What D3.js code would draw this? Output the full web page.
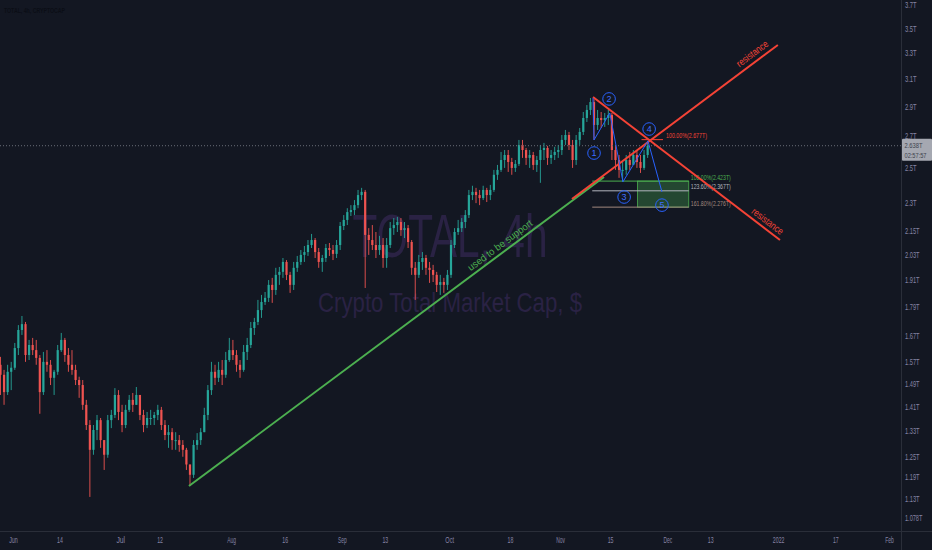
<!DOCTYPE html>
<html>
<head>
<meta charset="utf-8">
<script src="https://cdn.jsdelivr.net/npm/d3@7"></script>
<style>
  html, body { margin: 0; padding: 0; background: #131722; }
  svg { display: block; }
  text { font-family: "Liberation Sans", Arial, sans-serif; }
</style>
</head>
<body>
<svg id="chart" width="932" height="550"></svg>
<script>
// daily candles, values in trillions of USD, first candle is 2021-05-28
const firstDay = "2021-05-28T00:00:00Z";

const openT = [
  1.558, 1.521, 1.459, 1.532, 1.547, 1.622, 1.694, 1.718, 1.595, 1.634,
  1.614, 1.584, 1.459, 1.569, 1.558, 1.510, 1.532, 1.614, 1.654, 1.595,
  1.558, 1.539, 1.502, 1.484, 1.415, 1.348, 1.270, 1.332, 1.364, 1.300,
  1.255, 1.364, 1.381, 1.449, 1.391, 1.348, 1.398, 1.432, 1.415, 1.449,
  1.381, 1.348, 1.371, 1.371, 1.381, 1.398, 1.348, 1.316, 1.325, 1.300,
  1.300, 1.285, 1.270, 1.226, 1.196, 1.285, 1.300, 1.325, 1.381, 1.466,
  1.532, 1.510, 1.539, 1.521, 1.576, 1.614, 1.595, 1.558, 1.539, 1.607,
  1.634, 1.702, 1.727, 1.777, 1.812, 1.830, 1.888, 1.865, 1.934, 1.948,
  1.995, 1.934, 1.888, 1.967, 1.995, 2.029, 2.043, 2.078, 2.103, 2.043,
  1.995, 2.014, 2.063, 2.053, 2.034, 2.078, 2.175, 2.207, 2.249, 2.260,
  2.287, 2.343, 2.361, 2.129, 2.103, 2.078, 2.053, 2.078, 2.014, 2.078,
  2.164, 2.180, 2.196, 2.154, 2.164, 2.093, 1.967, 1.934, 1.995, 2.014,
  1.967, 1.957, 1.934, 1.888, 1.901, 1.888, 1.934, 2.078, 2.144, 2.164,
  2.196, 2.233, 2.343, 2.361, 2.343, 2.326, 2.372, 2.343, 2.372, 2.460,
  2.489, 2.549, 2.580, 2.537, 2.501, 2.525, 2.643, 2.611, 2.562, 2.580,
  2.519, 2.549, 2.611, 2.624, 2.562, 2.580, 2.599, 2.611, 2.675, 2.707,
  2.643, 2.549, 2.675, 2.727, 2.820, 2.875, 2.930, 2.773, 2.820, 2.806,
  2.820, 2.840, 2.611, 2.549, 2.489, 2.489, 2.549, 2.519, 2.580, 2.537,
  2.501, 2.580
];
const highT = [
  1.588, 1.539, 1.558, 1.569, 1.642, 1.714, 1.752, 1.727, 1.654, 1.662,
  1.654, 1.595, 1.607, 1.614, 1.576, 1.539, 1.634, 1.682, 1.662, 1.622,
  1.614, 1.558, 1.514, 1.502, 1.432, 1.364, 1.348, 1.381, 1.371, 1.300,
  1.381, 1.398, 1.473, 1.466, 1.415, 1.415, 1.449, 1.456, 1.477, 1.449,
  1.398, 1.391, 1.398, 1.391, 1.415, 1.408, 1.364, 1.348, 1.338, 1.325,
  1.316, 1.300, 1.276, 1.226, 1.300, 1.322, 1.338, 1.405, 1.484, 1.569,
  1.558, 1.569, 1.576, 1.607, 1.662, 1.654, 1.614, 1.576, 1.634, 1.662,
  1.727, 1.744, 1.821, 1.843, 1.856, 1.910, 1.920, 1.967, 1.971, 2.014,
  2.004, 1.948, 1.995, 2.024, 2.053, 2.073, 2.103, 2.134, 2.113, 2.063,
  2.029, 2.083, 2.088, 2.078, 2.103, 2.196, 2.233, 2.270, 2.287, 2.315,
  2.372, 2.384, 2.372, 2.164, 2.180, 2.144, 2.124, 2.113, 2.113, 2.196,
  2.217, 2.223, 2.217, 2.196, 2.180, 2.103, 1.995, 2.029, 2.043, 2.029,
  1.995, 1.981, 1.948, 1.934, 1.920, 1.957, 2.103, 2.164, 2.207, 2.217,
  2.260, 2.372, 2.396, 2.384, 2.372, 2.396, 2.384, 2.401, 2.489, 2.519,
  2.599, 2.611, 2.611, 2.562, 2.549, 2.675, 2.675, 2.624, 2.611, 2.599,
  2.574, 2.643, 2.656, 2.637, 2.611, 2.631, 2.643, 2.707, 2.740, 2.727,
  2.675, 2.707, 2.753, 2.861, 2.909, 2.959, 2.966, 2.875, 2.861, 2.854,
  2.875, 2.854, 2.643, 2.580, 2.537, 2.580, 2.599, 2.611, 2.611, 2.580,
  2.611, 2.669
];
const lowT = [
  1.449, 1.415, 1.449, 1.466, 1.539, 1.595, 1.674, 1.569, 1.576, 1.595,
  1.558, 1.385, 1.449, 1.532, 1.484, 1.449, 1.521, 1.607, 1.569, 1.532,
  1.521, 1.484, 1.439, 1.398, 1.332, 1.134, 1.255, 1.300, 1.276, 1.210,
  1.246, 1.338, 1.371, 1.364, 1.325, 1.338, 1.391, 1.391, 1.415, 1.364,
  1.325, 1.338, 1.348, 1.348, 1.364, 1.332, 1.300, 1.276, 1.270, 1.270,
  1.264, 1.249, 1.210, 1.164, 1.187, 1.270, 1.285, 1.325, 1.364, 1.449,
  1.484, 1.495, 1.484, 1.510, 1.569, 1.576, 1.532, 1.510, 1.532, 1.576,
  1.622, 1.674, 1.714, 1.744, 1.799, 1.812, 1.808, 1.843, 1.888, 1.920,
  1.910, 1.852, 1.865, 1.948, 1.981, 1.995, 2.024, 2.063, 2.014, 1.967,
  1.948, 1.995, 2.024, 2.004, 2.014, 2.053, 2.154, 2.180, 2.228, 2.233,
  2.270, 2.315, 1.874, 2.029, 2.053, 2.014, 2.029, 1.967, 1.967, 2.063,
  2.129, 2.144, 2.124, 2.113, 2.063, 1.934, 1.821, 1.920, 1.957, 1.934,
  1.897, 1.901, 1.856, 1.843, 1.852, 1.865, 1.920, 2.063, 2.129, 2.144,
  2.164, 2.217, 2.315, 2.298, 2.287, 2.315, 2.304, 2.315, 2.361, 2.430,
  2.477, 2.501, 2.477, 2.460, 2.477, 2.513, 2.562, 2.519, 2.501, 2.489,
  2.477, 2.413, 2.549, 2.519, 2.525, 2.549, 2.562, 2.580, 2.643, 2.611,
  2.501, 2.519, 2.643, 2.707, 2.793, 2.840, 2.675, 2.740, 2.753, 2.760,
  2.773, 2.549, 2.489, 2.442, 2.419, 2.460, 2.489, 2.519, 2.501, 2.471,
  2.489, 2.562
];
const closeT = [
  1.521, 1.459, 1.532, 1.547, 1.622, 1.694, 1.718, 1.595, 1.634, 1.614,
  1.584, 1.459, 1.569, 1.558, 1.510, 1.532, 1.614, 1.654, 1.595, 1.558,
  1.539, 1.502, 1.484, 1.415, 1.348, 1.270, 1.332, 1.364, 1.300, 1.255,
  1.364, 1.381, 1.449, 1.391, 1.348, 1.398, 1.432, 1.415, 1.449, 1.381,
  1.348, 1.371, 1.371, 1.381, 1.398, 1.348, 1.316, 1.325, 1.300, 1.300,
  1.285, 1.270, 1.226, 1.196, 1.285, 1.300, 1.325, 1.381, 1.466, 1.532,
  1.510, 1.539, 1.521, 1.576, 1.614, 1.595, 1.558, 1.539, 1.607, 1.634,
  1.702, 1.727, 1.777, 1.812, 1.830, 1.888, 1.865, 1.934, 1.948, 1.995,
  1.934, 1.888, 1.967, 1.995, 2.029, 2.043, 2.078, 2.103, 2.043, 1.995,
  2.014, 2.063, 2.053, 2.034, 2.078, 2.175, 2.207, 2.249, 2.260, 2.287,
  2.343, 2.361, 2.129, 2.103, 2.078, 2.053, 2.078, 2.014, 2.078, 2.164,
  2.180, 2.196, 2.154, 2.164, 2.093, 1.967, 1.934, 1.995, 2.014, 1.967,
  1.957, 1.934, 1.888, 1.901, 1.888, 1.934, 2.078, 2.144, 2.164, 2.196,
  2.233, 2.343, 2.361, 2.343, 2.326, 2.372, 2.343, 2.372, 2.460, 2.489,
  2.549, 2.580, 2.537, 2.501, 2.525, 2.643, 2.611, 2.562, 2.580, 2.519,
  2.549, 2.611, 2.624, 2.562, 2.580, 2.599, 2.611, 2.675, 2.707, 2.643,
  2.549, 2.675, 2.727, 2.820, 2.875, 2.930, 2.773, 2.820, 2.806, 2.820,
  2.840, 2.611, 2.549, 2.489, 2.489, 2.549, 2.519, 2.580, 2.537, 2.501,
  2.580, 2.638
];

// axes
const yTicks = [3.7, 3.5, 3.3, 3.1, 2.9, 2.7, 2.5, 2.3, 2.15, 2.03, 1.91, 1.79, 1.67, 1.57, 1.49, 1.41, 1.33, 1.25, 1.19, 1.13, 1.078];
const yTickLabels = ["3.7T", "3.5T", "3.3T", "3.1T", "2.9T", "2.7T", "2.5T", "2.3T", "2.15T", "2.03T", "1.91T", "1.79T", "1.67T", "1.57T", "1.49T", "1.41T", "1.33T", "1.25T", "1.19T", "1.13T", "1.078T"];
const xTickDates = ["2021-06-01", "2021-06-14", "2021-07-01", "2021-07-12", "2021-08-01", "2021-08-16", "2021-09-01", "2021-09-13", "2021-10-01", "2021-10-18", "2021-11-01", "2021-11-15", "2021-12-01", "2021-12-13", "2022-01-01", "2022-01-17", "2022-02-01"];
const xTickLabels = ["Jun", "14", "Jul", "12", "Aug", "16", "Sep", "13", "Oct", "18", "Nov", "15", "Dec", "13", "2022", "17", "Feb"];

const lastPrice = 2.638;
const lastPriceLabel = "2.638T";
const countdown = "02:57:57";

// drawings (date, price)
const supportLine = [["2021-07-20T05:00:00Z", 1.164], ["2021-11-13T07:00:00Z", 2.447]];
const resistanceUp = [["2021-11-04T08:00:00Z", 2.321], ["2021-12-31T22:00:00Z", 3.361]];
const resistanceDown = [["2021-11-10T05:00:00Z", 2.966], ["2022-01-01T12:00:00Z", 2.103]];
const wavePoints = [
  ["2021-11-10T05:00:00Z", 2.959], ["2021-11-10T12:00:00Z", 2.675], ["2021-11-14T22:00:00Z", 2.854],
  ["2021-11-18T14:00:00Z", 2.419], ["2021-11-25T14:00:00Z", 2.669], ["2021-11-29T12:00:00Z", 2.361]
];
const waveLabels = [
  ["1", "2021-11-10T12:00:00Z", 2.592], ["2", "2021-11-14T17:00:00Z", 2.952], ["3", "2021-11-18T22:00:00Z", 2.332],
  ["4", "2021-11-25T22:00:00Z", 2.746], ["5", "2021-11-29T12:00:00Z", 2.287]
];
const fibTop = ["100.00%", 2.677, "2021-11-23T19:00:00Z", "2021-11-29T19:00:00Z"];
const fibLevels = [["100.00%", 2.423], ["123.60%", 2.367], ["161.80%", 2.276]];
const fibSpan = ["2021-11-10T00:00:00Z", "2021-11-22T16:00:00Z", "2021-12-07T00:00:00Z"];

const svg = d3.select("#chart"),
  width = +svg.attr("width"),
  height = +svg.attr("height");
const plotRight = 901, plotBottom = 532;

const upColor = "#26a69a", downColor = "#ef5350";
const red = "#f44336", green = "#4caf50", blue = "#2962ff";
const fibColors = ["#4caf50", "#b2b5be", "#a1887f"];
const axisText = "#8683a4";

const x = d3.scaleUtc()
  .domain([new Date("2021-06-01T00:00:00Z"), new Date("2022-02-01T00:00:00Z")])
  .range([13, 889]);
const y = d3.scaleLog()
  .domain([1.078, 3.7])
  .range([518, 5]);

const pt = (p) => [x(new Date(p[0])), y(p[1])];

svg.append("rect").attr("width", width).attr("height", height).attr("fill", "#131722");

// watermark
svg.append("text")
  .attr("x", 450).attr("y", 257)
  .attr("text-anchor", "middle")
  .attr("font-size", 62)
  .attr("textLength", 195).attr("lengthAdjust", "spacingAndGlyphs")
  .attr("fill", "#2a2244")
  .text("TOTAL, 4h");
svg.append("text")
  .attr("x", 450).attr("y", 312)
  .attr("text-anchor", "middle")
  .attr("font-size", 28)
  .attr("textLength", 264).attr("lengthAdjust", "spacingAndGlyphs")
  .attr("fill", "#2a2244")
  .text("Crypto Total Market Cap, $");

// candles
const start = new Date(firstDay);
const candles = closeT.map((c, i) => ({
  t: d3.utcHour.offset(d3.utcDay.offset(start, i), 12),
  o: openT[i], h: highT[i], l: lowT[i], c: c
}));

const cg = svg.append("g");
cg.selectAll("line")
  .data(candles)
  .join("line")
  .attr("x1", (d) => x(d.t)).attr("x2", (d) => x(d.t))
  .attr("y1", (d) => y(d.h)).attr("y2", (d) => y(d.l))
  .attr("stroke", (d) => (d.c >= d.o ? upColor : downColor))
  .attr("stroke-width", 0.9);
cg.selectAll("rect")
  .data(candles)
  .join("rect")
  .attr("x", (d) => x(d.t) - 1.1)
  .attr("width", 2.2)
  .attr("y", (d) => y(Math.max(d.o, d.c)))
  .attr("height", (d) => Math.max(1, Math.abs(y(d.o) - y(d.c))))
  .attr("fill", (d) => (d.c >= d.o ? upColor : downColor));

// last price line
svg.append("line")
  .attr("x1", 0).attr("x2", plotRight)
  .attr("y1", y(lastPrice)).attr("y2", y(lastPrice))
  .attr("stroke", "#6a6d78")
  .attr("stroke-width", 1)
  .style("stroke-dasharray", "1,2");

// fib extension
const fx0 = x(new Date(fibSpan[0])), fx1 = x(new Date(fibSpan[1])), fx2 = x(new Date(fibSpan[2]));
svg.append("rect")
  .attr("x", fx1).attr("width", fx2 - fx1)
  .attr("y", y(fibLevels[0][1]))
  .attr("height", y(fibLevels[2][1]) - y(fibLevels[0][1]))
  .attr("fill", green).attr("fill-opacity", 0.32)
  .attr("stroke", green).attr("stroke-width", 0.8);
svg.selectAll("fibLines")
  .data(fibLevels)
  .join("line")
  .attr("x1", fx0).attr("x2", fx2)
  .attr("y1", (d) => y(d[1])).attr("y2", (d) => y(d[1]))
  .attr("stroke", (d, i) => fibColors[i])
  .attr("stroke-width", 1);
svg.selectAll("fibText")
  .data(fibLevels)
  .join("text")
  .attr("x", fx2 + 2)
  .attr("y", (d) => y(d[1]) - 1.5)
  .attr("font-size", 7.5)
  .attr("textLength", 40).attr("lengthAdjust", "spacingAndGlyphs")
  .attr("fill", (d, i) => fibColors[i])
  .text((d) => `${d[0]}(${d3.format(".3f")(d[1])}T)`);

svg.append("line")
  .attr("x1", x(new Date(fibTop[2]))).attr("x2", x(new Date(fibTop[3])))
  .attr("y1", y(fibTop[1])).attr("y2", y(fibTop[1]))
  .attr("stroke", red).attr("stroke-width", 1);
svg.append("text")
  .attr("x", x(new Date(fibTop[3])) + 3)
  .attr("y", y(fibTop[1]) - 1.5)
  .attr("font-size", 7.5)
  .attr("textLength", 41).attr("lengthAdjust", "spacingAndGlyphs")
  .attr("fill", red)
  .text(`${fibTop[0]}(${d3.format(".3f")(fibTop[1])}T)`);

// trend lines
const line = d3.line();
svg.append("path").attr("d", line(supportLine.map(pt)))
  .attr("stroke", green).attr("stroke-width", 2).attr("fill", "none");
svg.append("path").attr("d", line(resistanceUp.map(pt)))
  .attr("stroke", red).attr("stroke-width", 2).attr("fill", "none");
svg.append("path").attr("d", line(resistanceDown.map(pt)))
  .attr("stroke", red).attr("stroke-width", 2).attr("fill", "none");

// text along a line
function lineLabel(seg, t, txt, color, len, off) {
  const a = pt(seg[0]), b = pt(seg[1]);
  const px = a[0] + (b[0] - a[0]) * t, py = a[1] + (b[1] - a[1]) * t;
  const ang = Math.atan2(b[1] - a[1], b[0] - a[0]) * 180 / Math.PI;
  const r = ang > 90 || ang < -90 ? ang + 180 : ang;
  svg.append("text")
    .attr("transform", `translate(${px},${py}) rotate(${r})`)
    .attr("y", off)
    .attr("text-anchor", "middle")
    .attr("font-size", 10)
    .attr("textLength", len).attr("lengthAdjust", "spacingAndGlyphs")
    .attr("fill", color)
    .text(txt);
}
lineLabel(supportLine, 0.76, "used to be support", green, 78, -4);
lineLabel(resistanceUp, 0.9, "resistance", red, 37, -5);
lineLabel(resistanceDown, 0.91, "resistance", red, 37, -4);

// elliott waves
svg.append("path").attr("d", line(wavePoints.map(pt)))
  .attr("stroke", blue).attr("stroke-width", 1).attr("fill", "none");
const wg = svg.selectAll("waveLabel")
  .data(waveLabels)
  .join("g")
  .attr("transform", (d) => `translate(${x(new Date(d[1]))},${y(d[2])})`);
wg.append("circle").attr("r", 6.3)
  .attr("fill", "none").attr("stroke", blue).attr("stroke-width", 1);
wg.append("text")
  .attr("text-anchor", "middle").attr("dy", "0.36em")
  .attr("font-size", 9).attr("fill", "#3d6dff")
  .text((d) => d[0]);

// axes
svg.append("line").attr("x1", plotRight + 0.5).attr("x2", plotRight + 0.5)
  .attr("y1", 0).attr("y2", height).attr("stroke", "#2a2e39");
svg.append("line").attr("x1", 0).attr("x2", width)
  .attr("y1", plotBottom - 0.5).attr("y2", plotBottom - 0.5).attr("stroke", "#2a2e39");

const yAxis = svg.append("g")
  .attr("transform", `translate(${plotRight},0)`)
  .call(d3.axisRight(y).tickValues(yTicks).tickFormat((d, i) => yTickLabels[i]).tickSize(0).tickPadding(4));
yAxis.select(".domain").remove();
yAxis.selectAll("text")
  .attr("fill", axisText).attr("font-size", 9)
  .style("font-family", "'Liberation Sans', Arial, sans-serif")
  .attr("textLength", (d, i) => yTickLabels[i].length * 2.9)
  .attr("lengthAdjust", "spacingAndGlyphs");

const xAxis = svg.append("g")
  .attr("transform", `translate(0,${plotBottom})`)
  .call(d3.axisBottom(x).tickValues(xTickDates.map((d) => new Date(d + "T00:00:00Z")))
    .tickFormat((d, i) => xTickLabels[i]).tickSize(0).tickPadding(5));
xAxis.select(".domain").remove();
xAxis.selectAll("text")
  .attr("fill", axisText).attr("font-size", 9)
  .style("font-family", "'Liberation Sans', Arial, sans-serif")
  .attr("textLength", (d, i) => xTickLabels[i].length * 2.9)
  .attr("lengthAdjust", "spacingAndGlyphs");

// last price tag
const ly = y(lastPrice);
svg.append("rect")
  .attr("x", plotRight + 1).attr("y", ly - 7).attr("width", 30).attr("height", 22)
  .attr("fill", "#a5a8b1").attr("rx", 1);
svg.append("text")
  .attr("x", plotRight + 3.5).attr("y", ly + 2.5)
  .attr("font-size", 7).attr("fill", "#40434e")
  .attr("textLength", 18).attr("lengthAdjust", "spacingAndGlyphs")
  .text(lastPriceLabel);
svg.append("text")
  .attr("x", plotRight + 3.5).attr("y", ly + 12)
  .attr("font-size", 6.6).attr("fill", "#40434e")
  .attr("textLength", 22).attr("lengthAdjust", "spacingAndGlyphs")
  .text(countdown);

// title
svg.append("text")
  .attr("x", 4).attr("y", 13)
  .attr("font-size", 8).attr("font-weight", "bold")
  .attr("textLength", 61).attr("lengthAdjust", "spacingAndGlyphs")
  .attr("fill", "#0b0e16")
  .text("TOTAL, 4h, CRYPTOCAP");
</script>
</body>
</html>
